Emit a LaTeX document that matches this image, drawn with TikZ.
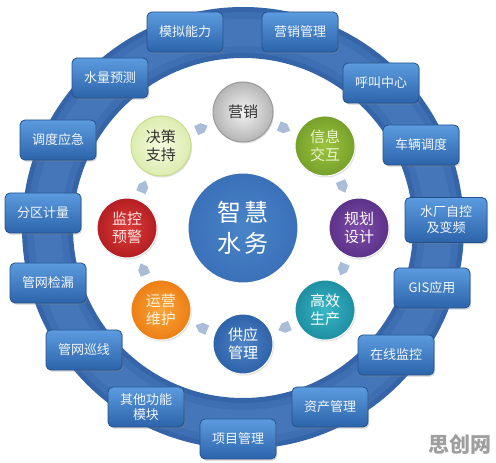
\documentclass[tikz,border=0pt]{standalone}
\usepackage{fontspec}
\setmainfont{Noto Sans CJK SC}
\usetikzlibrary{shadows}
\definecolor{ringdark}{HTML}{3565A8}
\definecolor{ringmid}{HTML}{3E6FB3}
\definecolor{ringlight}{HTML}{4576BA}
\definecolor{boxtop}{HTML}{5C9BDF}
\definecolor{boxbot}{HTML}{2C64AA}
\definecolor{boxedge}{HTML}{22528C}
\definecolor{boxtext}{HTML}{F2F6FB}
\definecolor{arrowc}{HTML}{A9BCD8}
\definecolor{darktext}{HTML}{333333}
\definecolor{hubin}{HTML}{4A84C8}
\definecolor{hubout}{HTML}{3A70B8}
\definecolor{grayin}{HTML}{F3F3F3}
\definecolor{grayout}{HTML}{B5B5B5}
\definecolor{grayedge}{HTML}{9A9A9A}
\definecolor{greenin}{HTML}{9CC440}
\definecolor{greenout}{HTML}{76A02A}
\definecolor{greentext}{HTML}{EEF5D0}
\definecolor{purpin}{HTML}{7D4CAA}
\definecolor{purpout}{HTML}{5C3288}
\definecolor{tealin}{HTML}{38B8C6}
\definecolor{tealout}{HTML}{1E8EA2}
\definecolor{bluein}{HTML}{4C84C8}
\definecolor{blueout}{HTML}{2E62A8}
\definecolor{orangein}{HTML}{FAA63C}
\definecolor{orangeout}{HTML}{EC7E14}
\definecolor{orangetext}{HTML}{FFF2DC}
\definecolor{redin}{HTML}{DA3C38}
\definecolor{redout}{HTML}{B41E22}
\definecolor{redtext}{HTML}{FFE4E4}
\definecolor{palein}{HTML}{F6FBDE}
\definecolor{paleout}{HTML}{DCECB0}
\definecolor{paleedge}{HTML}{C8DC8C}
\begin{document}
\begin{tikzpicture}[x=1pt,y=1pt,
  mod/.style={rectangle, rounded corners=5pt, draw=boxedge, line width=0.8pt,
    top color=boxtop, bottom color=boxbot, minimum width=76pt, minimum height=40pt,
    text=boxtext, font=\fontsize{13}{15}\selectfont, align=center, inner sep=2pt,
    drop shadow={opacity=0.35, shadow xshift=1.2pt, shadow yshift=-1.6pt}},
  ball/.style={circle, minimum size=60pt, inner sep=0pt, line width=1pt, align=center,
    font=\fontsize{15}{18}\selectfont,
    drop shadow={opacity=0.25, shadow xshift=1pt, shadow yshift=-1.5pt}},
  tip/.style={fill=arrowc}
]
\useasboundingbox (0,0) rectangle (496,463);
\coordinate (c) at (243,235);
% ring
\fill[ringdark, even odd rule] (c) circle (221pt) (c) circle (170pt);
\fill[ringmid, even odd rule] (c) circle (216pt) (c) circle (175pt);
\fill[ringlight, even odd rule] (c) circle (209pt) (c) circle (182pt);
% outer modules
\node[mod] (m1) at (185,431) {模拟能力};
\node[mod] (m2) at (300,431) {营销管理};
\node[mod] (m3) at (110,385) {水量预测};
\node[mod] (m4) at (381,380) {呼叫中心};
\node[mod] (m5) at (58,323) {调度应急};
\node[mod] (m6) at (421,318) {车辆调度};
\node[mod] (m7) at (43,250) {分区计量};
\node[mod, minimum width=82pt, minimum height=45pt, font=\fontsize{13}{16}\selectfont] (m8) at (446,243) {水厂自控\\及变频};
\node[mod] (m9) at (48,180) {管网检漏};
\node[mod] (m10) at (432,175) {GIS应用};
\node[mod] (m11) at (84,113) {管网巡线};
\node[mod] (m12) at (396,108) {在线监控};
\node[mod] (m13) at (146,56) {其他功能\\模块};
\node[mod] (m14) at (330,56) {资产管理};
\node[mod] (m15) at (238,24) {项目管理};
% centre
\node[circle, minimum size=112pt, inner sep=0pt, inner color=hubin, outer color=hubout,
  draw=white, line width=3pt, text=white, align=center, font=\fontsize{24}{31}\selectfont,
  drop shadow={opacity=0.2, shadow xshift=1pt, shadow yshift=-1.5pt}] (hub) at (c) {智\hspace{3pt}慧\\水\hspace{3pt}务};
% inner ring of circles
\begin{scope}[shift={(c)}]
\node[ball, inner color=grayin, outer color=grayout, draw=grayedge, text=darktext] (b1) at (90:116pt) {营销};
\node[ball, inner color=greenin, outer color=greenout, draw=white, text=greentext] (b2) at (45:116pt) {信息\\交互};
\node[ball, inner color=purpin, outer color=purpout, draw=white, text=white] (b3) at (0:116pt) {规划\\设计};
\node[ball, inner color=tealin, outer color=tealout, draw=white, text=white] (b4) at (-45:116pt) {高效\\生产};
\node[ball, inner color=bluein, outer color=blueout, draw=white, text=white] (b5) at (-90:116pt) {供应\\管理};
\node[ball, inner color=orangein, outer color=orangeout, draw=white, text=orangetext] (b6) at (-135:116pt) {运营\\维护};
\node[ball, inner color=redin, outer color=redout, draw=white, text=redtext] (b7) at (180:116pt) {监控\\预警};
\node[ball, inner color=palein, outer color=paleout, draw=paleedge, text=darktext] (b8) at (135:116pt) {决策\\支持};
\foreach \a in {112.5,67.5,22.5,-22.5,-67.5,-112.5,-157.5,157.5}{
  \fill[tip, shift={(\a:108pt)}, rotate=\a-90]
    (-6pt,-5pt) -- (1pt,-5pt) -- (6.5pt,0pt) -- (1pt,5pt) -- (-6pt,5pt) -- cycle;
}
\end{scope}
% watermark
\node[text=black!38, font=\fontsize{21}{24}\selectfont\bfseries] (wm) at (460,19) {思创网};
\end{tikzpicture}
\end{document}
